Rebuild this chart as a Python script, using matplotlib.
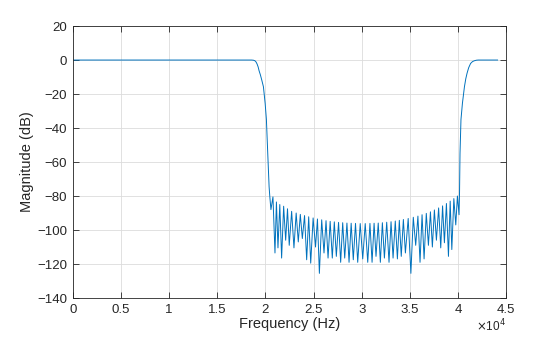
import numpy as np
import matplotlib
matplotlib.use("Agg")
import matplotlib.pyplot as plt
from matplotlib.ticker import FuncFormatter

plt.rcParams['font.family'] = ['Liberation Sans', 'DejaVu Sans']

# passband roll-off into the stop band (Hz, dB)
lower_edge_hz = [0, 18550, 18750, 18900, 19020, 19130, 19240, 19340, 19480,
                 19620, 19790, 19970, 20100, 20240, 20380, 20450]
lower_edge_db = [0, 0, -0.1, -0.4, -1.1, -2.3, -4.0, -6.3, -8.8,
                 -11.8, -15.7, -25.5, -35, -55, -74.5, -80]

# stop band nulls
null_hz = [20570, 20990, 21300, 21680, 22100, 22470, 22960, 23410, 23830, 24280,
           24700, 25200, 25600, 26080, 26500, 26940, 27360, 27810, 28230, 28680,
           29120, 29580, 30100, 30620, 31070, 31480, 31930, 32350, 32830, 33250,
           33700, 34100, 34530, 35100, 35600, 36050, 36470, 36920, 37330, 37750,
           38200, 38580, 39000, 39350, 39760, 40100]
null_db = [-88, -113.5, -110.5, -116.5, -106, -109, -110.5, -107, -105, -117.5,
           -119.5, -110, -125.5, -113.5, -116.5, -116.5, -115.5, -119, -116.5, -119,
           -117.5, -119, -117, -119, -119, -115.5, -119, -116.5, -119, -116.5,
           -117, -115.5, -113.5, -125.5, -109, -119, -117, -109, -110, -106,
           -110.5, -107.5, -115.5, -111.5, -97, -91]

# stop band lobe peaks (one between each pair of nulls)
peak_hz = [20780, 21140, 21490, 21890, 22290, 22720, 23190, 23620, 24060, 24490,
           24950, 25400, 25840, 26290, 26720, 27150, 27590, 28020, 28460, 28900,
           29350, 29840, 30360, 30850, 31280, 31710, 32140, 32590, 33040, 33480,
           33900, 34320, 34820, 35350, 35830, 36260, 36700, 37130, 37540, 37980,
           38390, 38790, 39180, 39560, 39930]
peak_db = [-80.5, -83.5, -85, -86, -87.5, -89, -90, -90.8, -91.5, -92.2,
           -92.9, -93.5, -94, -94.5, -94.9, -95.2, -95.5, -95.7, -95.9, -96,
           -96.1, -96.2, -96.2, -96.1, -96, -95.9, -95.7, -95.4, -95.1, -94.7,
           -94.3, -93.8, -93.2, -92.5, -91.8, -91, -90.2, -89.3, -88.2, -87,
           -85.8, -84.4, -83, -81.5, -80]

# rise back to the upper passband
upper_edge_hz = [40150, 40200, 40300, 40450, 40660, 40800, 40930, 41100, 41300,
                 41500, 41700, 41900, 42100, 44100]
upper_edge_db = [-78, -55, -35, -25.5, -15.7, -11, -7.8, -4.5, -2,
                 -0.9, -0.4, -0.1, 0, 0]

# interleave nulls and peaks
stop_hz, stop_db = [], []
for i in range(len(null_hz)):
    stop_hz.append(null_hz[i])
    stop_db.append(null_db[i])
    if i < len(peak_hz):
        stop_hz.append(peak_hz[i])
        stop_db.append(peak_db[i])

freq = np.array(lower_edge_hz + stop_hz + upper_edge_hz)
mag = np.array(lower_edge_db + stop_db + upper_edge_db)

fig = plt.figure(figsize=(5.6, 3.37), dpi=100)
ax = fig.add_axes([0.13, 0.1157, 0.774, 0.807])

ax.plot(freq, mag, color='#0072BD', linewidth=0.7)

ax.set_xlim(0, 45000)
ax.set_ylim(-140, 20)
ax.set_xticks(np.arange(0, 45001, 5000))
ax.set_yticks(np.arange(-140, 21, 20))
ax.xaxis.set_major_formatter(FuncFormatter(lambda v, p: '%g' % (v / 1e4)))

ax.grid(True, color='#dcdcdc', linewidth=0.6)
ax.set_axisbelow(True)
for s in ax.spines.values():
    s.set_color('#262626')
    s.set_linewidth(0.6)
ax.tick_params(direction='in', length=4, width=0.6, top=True, right=True,
               colors='#262626', labelsize=9.5, pad=4)

ax.set_xlabel('Frequency (Hz)', fontsize=10.5, color='#262626', labelpad=1)
ax.set_ylabel('Magnitude (dB)', fontsize=10.5, color='#262626', labelpad=2.5)
ax.text(1.0, -0.072, r'$\times$10$^4$', transform=ax.transAxes, ha='right', va='top',
        fontsize=8.5, color='#262626')

fig.savefig('out.png', dpi=100)
